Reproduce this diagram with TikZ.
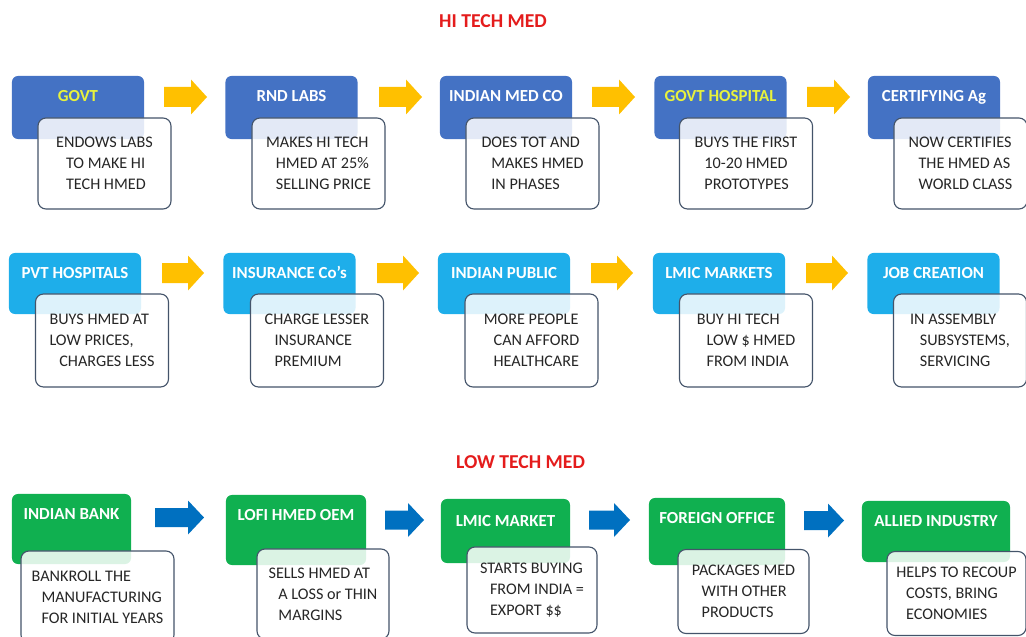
\documentclass[tikz,border=0pt]{standalone}
\usepackage{fontspec}
\setmainfont{Carlito}
\usetikzlibrary{positioning}
\definecolor{hiblue}{RGB}{68,114,196}
\definecolor{pvtblue}{RGB}{30,174,234}
\definecolor{logreen}{RGB}{16,176,80}
\definecolor{arryellow}{RGB}{255,192,0}
\definecolor{arrblue}{RGB}{0,112,192}
\definecolor{titlered}{RGB}{228,28,28}
\definecolor{govtyellow}{RGB}{232,242,60}
\definecolor{noteline}{RGB}{68,84,106}
\newcommand{\tind}{\hspace*{7pt}}
\tikzset{%
	stagebox/.style  = {rectangle, rounded corners=0.15cm, inner sep=0pt},
	hibox/.style     = {stagebox, fill=hiblue, minimum width=3.3cm, minimum height=1.575cm},
	pvtbox/.style    = {stagebox, fill=pvtblue, minimum width=3.3cm, minimum height=1.525cm},
	lobox/.style     = {stagebox, fill=logreen},
	headtext/.style  = {font=\fontsize{12}{14}\selectfont\bfseries, text=white, text height=7.6pt, text depth=0pt, inner sep=0pt},
	notebox/.style   = {draw=noteline, line width=0.8pt, rounded corners=0.2cm, fill=white, fill opacity=0.85, text opacity=1, draw opacity=1, inner sep=0pt, align=left, text=black!85, font=\fontsize{11.5}{15}\selectfont},
	hinote/.style    = {notebox, minimum width=3.325cm, minimum height=2.275cm},
	pvtnote/.style   = {notebox, minimum width=3.325cm, minimum height=2.325cm},
	titletext/.style = {font=\fontsize{14}{16}\selectfont\bfseries, text=titlered, inner sep=0pt},
}
\begin{document}
\begin{tikzpicture}[x=0.025cm, y=-0.025cm]
	\useasboundingbox (0,0) rectangle (1026,637);
	% titles
	\node[titletext] (hititle) at (493,21) {HI TECH MED};
	\node[titletext] (lotitle) at (520.5,462.5) {LOW TECH MED};
	% block arrows: x, centre y, shaft length
	\foreach \ax/\ay/\len in {164/97/27, 379/97/27, 592/97/27, 807/97/27, 162/273/26, 377/273/26, 591/273/26, 806/273/26}
		\fill[arryellow] (\ax,{\ay-10}) -- ++(\len,0) -- ++(0,-7.5) -- ++(16,17.5) -- ++(-16,17.5) -- ++(0,-7.5) -- ++(-\len,0) -- cycle;
	\foreach \ax/\ay/\len in {155/517.5/33, 385/520/23, 589/520/25, 804/520.5/24}
		\fill[arrblue] (\ax,{\ay-9.5}) -- ++(\len,0) -- ++(0,-7.5) -- ++(16,17) -- ++(-16,17) -- ++(0,-7.5) -- ++(-\len,0) -- cycle;
	% hi tech, first row
	\node[hibox] (govt) at (78,107.5) {};
	\node[headtext, text=govtyellow] (govt-h) at ([yshift=-0.5cm]govt.north) {GOVT};
	\node[hinote] (govt-n) at (104.5,163.5) {ENDOWS LABS\\\tind TO MAKE HI\\\tind TECH HMED};
	\node[hibox] (rnd) at (291.5,107.5) {};
	\node[headtext] (rnd-h) at ([yshift=-0.5cm]rnd.north) {RND LABS};
	\node[hinote] (rnd-n) at (318.5,163.5) {MAKES HI TECH\\\tind HMED AT 25\%\\\tind SELLING PRICE};
	\node[hibox] (medco) at (506,107.5) {};
	\node[headtext] (medco-h) at ([yshift=-0.5cm]medco.north) {INDIAN MED CO};
	\node[hinote] (medco-n) at (532.5,163.5) {DOES TOT AND\\\tind MAKES HMED\\\tind IN PHASES};
	\node[hibox] (ghosp) at (720.5,107.5) {};
	\node[headtext, text=govtyellow] (ghosp-h) at ([yshift=-0.5cm]ghosp.north) {GOVT HOSPITAL};
	\node[hinote] (ghosp-n) at (746,163.5) {BUYS THE FIRST\\\tind 10-20 HMED\\\tind PROTOTYPES};
	\node[hibox] (certag) at (934,107.5) {};
	\node[headtext] (certag-h) at ([yshift=-0.5cm]certag.north) {CERTIFYING Ag};
	\node[hinote] (certag-n) at (960.5,163.5) {NOW CERTIFIES\\\tind THE HMED AS\\\tind WORLD CLASS};
	% hi tech, second row
	\node[pvtbox] (pvthosp) at (75,283.5) {};
	\node[headtext] (pvthosp-h) at ([yshift=-0.5cm]pvthosp.north) {PVT HOSPITALS};
	\node[pvtnote] (pvthosp-n) at (102,340.5) {BUYS HMED AT\\LOW PRICES,\\\tind CHARGES LESS};
	\node[pvtbox] (insco) at (289.5,283.5) {};
	\node[headtext] (insco-h) at ([yshift=-0.5cm]insco.north) {INSURANCE Co's};
	\node[pvtnote] (insco-n) at (317,340.5) {CHARGE LESSER\\\tind INSURANCE\\\tind PREMIUM};
	\node[pvtbox] (public) at (504,283.5) {};
	\node[headtext] (public-h) at ([yshift=-0.5cm]public.north) {INDIAN PUBLIC};
	\node[pvtnote] (public-n) at (531.5,340.5) {MORE PEOPLE\\\tind CAN AFFORD\\\tind HEALTHCARE};
	\node[pvtbox] (lmics) at (719,283.5) {};
	\node[headtext] (lmics-h) at ([yshift=-0.5cm]lmics.north) {LMIC MARKETS};
	\node[pvtnote] (lmics-n) at (746,340.5) {BUY HI TECH\\\tind LOW \$ HMED\\\tind FROM INDIA};
	\node[pvtbox] (jobs) at (933.5,283.5) {};
	\node[headtext] (jobs-h) at ([yshift=-0.5cm]jobs.north) {JOB CREATION};
	\node[pvtnote] (jobs-n) at (960,340.5) {IN ASSEMBLY\\\tind SUBSYSTEMS,\\\tind SERVICING};
	% low tech row
	\node[lobox, minimum width=2.975cm, minimum height=1.75cm] (bank) at (71.5,529) {};
	\node[headtext] (bank-h) at ([yshift=-0.5cm]bank.north) {INDIAN BANK};
	\node[notebox, minimum width=3.825cm, minimum height=2.3cm] (bank-n) at (97.5,597) {BANKROLL THE\\\tind MANUFACTURING\\\tind FOR INITIAL YEARS};
	\node[lobox, minimum width=3.5cm, minimum height=1.75cm] (oem) at (296,530) {};
	\node[headtext] (oem-h) at ([yshift=-0.5cm]oem.north) {LOFI HMED OEM};
	\node[notebox, minimum width=3.3cm, minimum height=2.25cm] (oem-n) at (323,594) {SELLS HMED AT\\\tind A LOSS or THIN\\\tind MARGINS};
	\node[lobox, minimum width=3.225cm, minimum height=1.6cm] (lmic) at (505.5,531) {};
	\node[headtext] (lmic-h) at ([yshift=-0.55cm]lmic.north) {LMIC MARKET};
	\node[notebox, minimum width=3.25cm, minimum height=2.15cm] (lmic-n) at (532,590) {STARTS BUYING\\\tind FROM INDIA =\\\tind EXPORT \$\$};
	\node[lobox, minimum width=3.4cm, minimum height=1.675cm] (foreign) at (717,531.5) {};
	\node[headtext] (foreign-h) at ([yshift=-0.5cm]foreign.north) {FOREIGN OFFICE};
	\node[notebox, minimum width=3.275cm, minimum height=2.1cm] (foreign-n) at (743.5,591.5) {PACKAGES MED\\\tind WITH OTHER\\\tind PRODUCTS};
	\node[lobox, minimum width=3.7cm, minimum height=1.525cm] (allied) at (936,531.5) {};
	\node[headtext] (allied-h) at ([yshift=-0.5cm]allied.north) {ALLIED INDUSTRY};
	\node[notebox, minimum width=3.475cm, minimum height=2.1cm] (allied-n) at (956.5,593.5) {HELPS TO RECOUP\\\tind COSTS, BRING\\\tind ECONOMIES};
\end{tikzpicture}
\end{document}
